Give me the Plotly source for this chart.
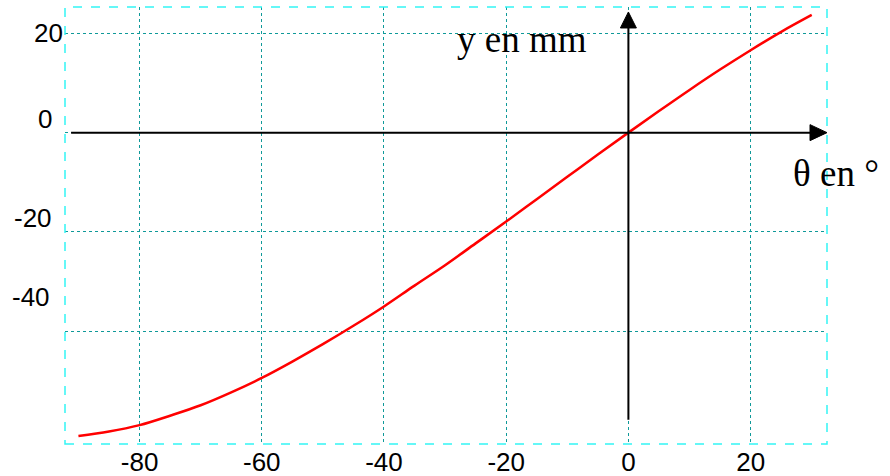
import plotly.graph_objects as go

# Data
theta_deg = [-90, -85, -80, -75, -70, -65, -60, -55, -50, -45, -40, -35, -30,
             -25, -20, -15, -10, -5, 0, 5, 10, 15, 20, 25, 30]
y_mm = [-61.1, -60.2, -58.9, -57.0, -54.9, -52.3, -49.4, -46.1, -42.6, -38.9,
        -35.0, -30.8, -26.7, -22.3, -17.9, -13.4, -8.9, -4.4, 0.0, 4.35, 8.6,
        12.7, 16.6, 20.3, 23.7]

x_ticks = [-80, -60, -40, -20, 0, 20]
x_tick_labels = ["-80", "-60", "-40", "-20", "0", "20"]
y_ticks = [-40, -20, 0, 20]
y_tick_labels = ["-40", "-20", "0", "20"]

X_RANGE = [-92.2, 32.5]
Y_RANGE = [-62.7, 25.3]

fig = go.Figure()
fig.add_trace(go.Scatter(x=theta_deg, y=y_mm, mode="lines",
                         line=dict(color="#ff0000", width=2.5, shape="spline", smoothing=1.0),
                         showlegend=False, hoverinfo="skip"))

grid = dict(showgrid=True, gridcolor="#0f9999", griddash="dot", gridwidth=1,
            zeroline=False, showline=False, ticks="", automargin=False)

fig.update_layout(
    width=890, height=476,
    margin=dict(l=64.5, r=63, t=7, b=32),
    paper_bgcolor="white", plot_bgcolor="white",
    font=dict(family="Liberation Sans, Arial, sans-serif", size=26, color="black"),
    xaxis=dict(range=X_RANGE, tickmode="array", tickvals=x_ticks,
               ticktext=x_tick_labels, ticklabelstandoff=0, **grid),
    yaxis=dict(range=Y_RANGE, tickmode="array", tickvals=y_ticks,
               showticklabels=False, **grid),
)

# dashed cyan frame
fig.add_shape(type="rect", xref="paper", yref="paper", x0=0, x1=1, y0=0, y1=1,
              line=dict(color="#33f5f5", width=1.5, dash="dash"), layer="above")

# y tick labels (as drawn in reference, offset above their grid lines)
y_label_shift = {"20": (0, 0), "0": (-11, 14), "-20": (-11, 14), "-40": (-13, 34)}
for v, t in zip(y_ticks, y_tick_labels):
    dx, dy = y_label_shift[t]
    fig.add_annotation(x=0, xref="paper", y=v, yref="y", text=t, showarrow=False,
                       xanchor="right", yanchor="middle", xshift=dx, yshift=dy,
                       font=dict(size=26, family="Liberation Sans, Arial, sans-serif"))

# black axes with arrows
fig.add_shape(type="line", xref="x", yref="y", x0=-91.2, x1=X_RANGE[1] - 2.0, y0=0, y1=0,
              line=dict(color="black", width=2), layer="above")
fig.add_shape(type="line", xref="x", yref="y", x0=0, x1=0, y0=-57.8, y1=Y_RANGE[1] - 3.5,
              line=dict(color="black", width=2), layer="above")
fig.add_shape(type="path", xref="x", yref="y", xsizemode="pixel", ysizemode="pixel",
              xanchor=X_RANGE[1], yanchor=0,
              path="M 0 0 L -17 8 L -17 -8 Z", fillcolor="black",
              line=dict(color="black", width=1), layer="above")
fig.add_shape(type="path", xref="x", yref="y", xsizemode="pixel", ysizemode="pixel",
              xanchor=0, yanchor=Y_RANGE[1] - 1.0,
              path="M 0 0 L -8 -16 L 8 -16 Z", fillcolor="black",
              line=dict(color="black", width=1), layer="above")

# axis titles
fig.add_annotation(x=0.512, xref="paper", y=0.925, yref="paper", text="y en mm",
                   showarrow=False, xanchor="left", yanchor="middle",
                   font=dict(family="Liberation Serif, Times New Roman, serif", size=37))
fig.add_annotation(x=0.953, xref="paper", y=0.62, yref="paper", text="θ en °",
                   showarrow=False, xanchor="left", yanchor="middle",
                   font=dict(family="Liberation Serif, Times New Roman, serif", size=37))

fig.write_html("out.html", config={"displayModeBar": False},
               post_script="document.body.style.margin='0';document.body.style.padding='0';")
